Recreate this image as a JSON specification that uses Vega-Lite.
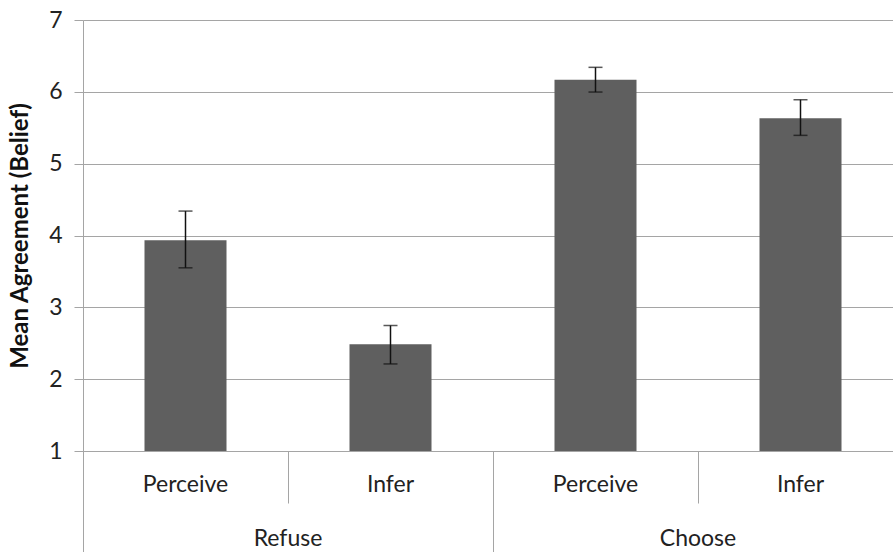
{
  "$schema": "https://vega.github.io/schema/vega-lite/v6.json",
  "width": 810,
  "height": 431,
  "autosize": {"type": "none"},
  "padding": {"left": 83, "top": 20, "right": 0, "bottom": 101},
  "background": "white",
  "config": {
    "view": {"stroke": null},
    "font": "Lato",
    "axis": {"labelFont": "Lato", "titleFont": "Lato", "labelColor": "#222222", "titleColor": "#111111"}
  },
  "data": {
    "values": [
      {"key": "Refuse|Perceive", "group": "Refuse", "cond": "Perceive", "mean": 3.935, "lo": 3.55, "hi": 4.34},
      {"key": "Refuse|Infer", "group": "Refuse", "cond": "Infer", "mean": 2.486, "lo": 2.212, "hi": 2.747},
      {"key": "Choose|Perceive", "group": "Choose", "cond": "Perceive", "mean": 6.169, "lo": 5.997, "hi": 6.341},
      {"key": "Choose|Infer", "group": "Choose", "cond": "Infer", "mean": 5.631, "lo": 5.394, "hi": 5.89}
    ]
  },
  "layer": [
    {
      "mark": {"type": "bar", "color": "#5f5f5f", "width": {"band": 0.4}},
      "encoding": {
        "x": {
          "field": "key",
          "type": "nominal",
          "sort": ["Refuse|Perceive", "Refuse|Infer", "Choose|Perceive", "Choose|Infer"],
          "scale": {"range": [0, 820], "paddingInner": 0, "paddingOuter": 0},
          "axis": {
            "orient": "bottom",
            "title": null,
            "labelExpr": "split(datum.value, '|')[1]",
            "labelAngle": 0,
            "labelFontSize": 23,
            "labelPadding": -30,
            "labelBaseline": "top",
            "bandPosition": 0,
            "tickSize": 52,
            "tickColor": "#a5a5a5",
            "tickWidth": 1,
            "domainColor": "#a5a5a5",
            "domainWidth": 1,
            "grid": false,
            "offset": 0
          }
        },
        "y": {
          "field": "mean",
          "type": "quantitative",
          "scale": {"domain": [1, 7], "nice": false, "zero": false},
          "axis": {
            "orient": "left",
            "title": "Mean Agreement (Belief)",
            "titleFontSize": 24,
            "titleFontWeight": "bold",
            "titlePadding": 16,
            "values": [1, 2, 3, 4, 5, 6, 7],
            "format": "d",
            "labelFontSize": 23,
            "labelPadding": 12,
            "tickSize": 9,
            "tickColor": "#a5a5a5",
            "domainColor": "#a5a5a5",
            "gridColor": "#a5a5a5",
            "gridWidth": 1,
            "grid": true
          }
        },
        "y2": {"datum": 1}
      }
    },
    {
      "mark": {"type": "rule", "color": "#111111", "strokeWidth": 1.5},
      "encoding": {
        "x": {
          "field": "key",
          "type": "nominal",
          "sort": ["Refuse|Perceive", "Refuse|Infer", "Choose|Perceive", "Choose|Infer"],
          "scale": {"range": [0, 820], "paddingInner": 0, "paddingOuter": 0},
          "axis": {
            "orient": "bottom",
            "title": null,
            "labelExpr": "indexof(datum.value, 'Infer') >= 0 ? split(datum.value, '|')[0] : ''",
            "labelAngle": 0,
            "labelFontSize": 23,
            "labelPadding": 76,
            "labelBaseline": "top",
            "labelOffset": -102.5,
            "bandPosition": 0,
            "tickSize": {"condition": {"test": "indexof(datum.value, 'Perceive') >= 0", "value": 102}, "value": 0},
            "tickColor": "#a5a5a5",
            "tickWidth": 1,
            "domain": false,
            "grid": false,
            "offset": 0
          }
        },
        "y": {"field": "lo", "type": "quantitative", "axis": null},
        "y2": {"field": "hi"}
      }
    },
    {
      "mark": {"type": "tick", "color": "#111111", "thickness": 1.5, "size": 14},
      "encoding": {
        "x": {
          "field": "key",
          "type": "nominal",
          "sort": ["Refuse|Perceive", "Refuse|Infer", "Choose|Perceive", "Choose|Infer"],
          "axis": null
        },
        "y": {"field": "lo", "type": "quantitative", "axis": null}
      }
    },
    {
      "mark": {"type": "tick", "color": "#111111", "thickness": 1.5, "size": 14},
      "encoding": {
        "x": {
          "field": "key",
          "type": "nominal",
          "sort": ["Refuse|Perceive", "Refuse|Infer", "Choose|Perceive", "Choose|Infer"],
          "axis": null
        },
        "y": {"field": "hi", "type": "quantitative", "axis": null}
      }
    }
  ],
  "resolve": {"axis": {"x": "independent", "y": "independent"}}
}
